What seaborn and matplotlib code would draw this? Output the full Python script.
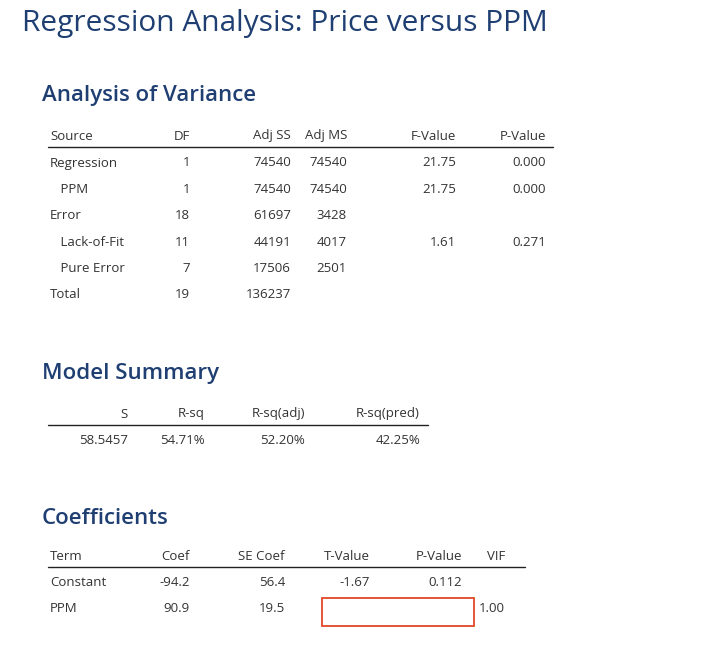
import seaborn as sns
import matplotlib.pyplot as plt
from matplotlib.patches import Rectangle

sns.set_theme(style="white")
plt.rcParams['font.family'] = ['Open Sans', 'DejaVu Sans']

title = "Regression Analysis: Price versus PPM"

anova_cols = ["Source", "DF", "Adj SS", "Adj MS", "F-Value", "P-Value"]
anova_source = ["Regression", "PPM", "Error", "Lack-of-Fit", "Pure Error", "Total"]
anova_indent = [False, True, False, True, True, False]
anova_df = ["1", "1", "18", "11", "7", "19"]
anova_ss = ["74540", "74540", "61697", "44191", "17506", "136237"]
anova_ms = ["74540", "74540", "3428", "4017", "2501", ""]
anova_f = ["21.75", "21.75", "", "1.61", "", ""]
anova_p = ["0.000", "0.000", "", "0.271", "", ""]

summary_cols = ["S", "R-sq", "R-sq(adj)", "R-sq(pred)"]
summary_vals = ["58.5457", "54.71%", "52.20%", "42.25%"]

coef_cols = ["Term", "Coef", "SE Coef", "T-Value", "P-Value", "VIF"]
coef_term = ["Constant", "PPM"]
coef_coef = ["-94.2", "90.9"]
coef_se = ["56.4", "19.5"]
coef_t = ["-1.67", ""]
coef_p = ["0.112", ""]
coef_vif = ["", "1.00"]

W, H = 712, 647
fig = plt.figure(figsize=(W / 100, H / 100), dpi=100)
ax = fig.add_axes([0, 0, 1, 1])
ax.set_xlim(0, W)
ax.set_ylim(H, 0)
ax.axis("off")

blue = "#1f3f73"
txt = "#333333"
fs = 9.5

ax.text(22, 24, title, fontsize=21.5, color=blue, va="center", ha="left")

def table(y0, headers, cols, xs, line_x1, row_h=26.4):
    # header row, left col left-aligned, others right-aligned
    for i, (h, x) in enumerate(zip(headers, xs)):
        ax.text(x, y0, h, fontsize=fs, color=txt, va="center",
                ha="left" if (i == 0 and x < 60) else "right")
    ax.plot([48, line_x1], [y0 + 11, y0 + 11], color="#222222", lw=1)
    for r in range(len(cols[0])):
        y = y0 + 27 + r * row_h
        for i, (col, x) in enumerate(zip(cols, xs)):
            ax.text(x, y, col[r], fontsize=fs, color=txt, va="center",
                    ha="left" if (i == 0 and x < 60) else "right")

# Analysis of Variance
ax.text(42, 96, "Analysis of Variance", fontsize=16, fontweight="semibold", color=blue, va="center")
src = [("   " + s) if ind else s for s, ind in zip(anova_source, anova_indent)]
table(136, anova_cols, [src, anova_df, anova_ss, anova_ms, anova_f, anova_p],
      [50, 190, 291, 347, 456, 546], 553)

# Model Summary
ax.text(42, 374, "Model Summary", fontsize=16, fontweight="semibold", color=blue, va="center")
table(414, summary_cols, [[v] for v in summary_vals],
      [128, 205, 305, 420], 428)

# Coefficients
ax.text(42, 518, "Coefficients", fontsize=16, fontweight="semibold", color=blue, va="center")
table(556, coef_cols, [coef_term, coef_coef, coef_se, coef_t, coef_p, coef_vif],
      [50, 190, 285, 370, 462, 505], 525, row_h=26)
ax.add_patch(Rectangle((322, 598), 152, 28, fill=False, edgecolor="#e0482a", lw=1.3))

fig.savefig("out.png", dpi=100)
